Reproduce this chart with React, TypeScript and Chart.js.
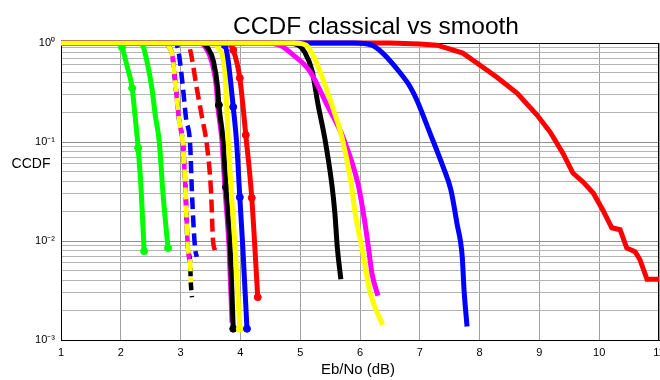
import { useEffect, useRef } from "react";
import { Chart, registerables } from "chart.js";

Chart.register(...registerables);

// ---------- axis ticks ----------
const xTickValues = [1, 2, 3, 4, 5, 6, 7, 8, 9, 10, 11];
const yDecades = [0.001, 0.01, 0.1];
const yMinorMultipliers = [1, 2, 3, 4, 5, 6, 7, 8, 9];
const yTickLabels = ["10⁰", "10⁻¹", "10⁻²", "10⁻³"];

// ---------- texts ----------
const titleText = "CCDF classical vs smooth";
const xLabelText = "Eb/No (dB)";
const yLabelText = "CCDF";

// ---------- data: smooth (right group) ----------
const yellowRX = [1, 4.9, 5.1, 5.21, 5.33, 5.53, 5.7, 5.85, 5.92, 6.03, 6.17, 6.38];
const yellowRY = [1, 1, 0.95, 0.76, 0.52, 0.236, 0.11, 0.039, 0.019, 0.0087, 0.003, 0.00142];

const blueRX = [1, 5.9, 6.2, 6.38, 6.67, 6.84, 6.95, 7.17, 7.39, 7.52, 7.62, 7.71, 7.74, 7.79];
const blueRY = [1, 1, 0.95, 0.79, 0.5, 0.36, 0.266, 0.123, 0.056, 0.0328, 0.0152, 0.0069, 0.0032, 0.00137];

const redRX = [1, 6.5, 7.0, 7.29, 7.72, 7.89, 8.29, 8.63, 8.96, 9.18, 9.39, 9.56, 9.73, 9.9, 10.06, 10.21, 10.35, 10.46, 10.6, 10.68, 10.8, 11];
const redRY = [1, 1, 0.975, 0.95, 0.79, 0.67, 0.45, 0.31, 0.187, 0.126, 0.0775, 0.0486, 0.0395, 0.0305, 0.0206, 0.0136, 0.013, 0.0085, 0.0078, 0.0065, 0.0041, 0.0041];

const magentaRX = [1, 4.4, 4.66, 4.88, 5.16, 5.45, 5.72, 5.97, 6.07, 6.14, 6.2, 6.3];
const magentaRY = [1, 1, 0.95, 0.76, 0.52, 0.236, 0.11, 0.037, 0.017, 0.0087, 0.0047, 0.0028];

const blackRX = [1, 4.75, 4.95, 5.08, 5.2, 5.3, 5.41, 5.53, 5.58, 5.62, 5.68];
const blackRY = [1, 1, 0.96, 0.8, 0.52, 0.236, 0.11, 0.037, 0.019, 0.0087, 0.0041];

// ---------- data: classical (left group) ----------
const redLX = [1, 3.8, 3.88, 3.99, 4.09, 4.19, 4.29];
const redLY = [1, 1, 0.85, 0.443, 0.118, 0.0273, 0.00271];

const blueLX = [1, 3.65, 3.74, 3.79, 3.88, 3.94, 3.99, 4.04, 4.11];
const blueLY = [1, 1, 0.95, 0.7, 0.226, 0.093, 0.0277, 0.0087, 0.0013];

const yellowLX = [1, 3.5, 3.63, 3.74, 3.77, 3.8, 3.85, 3.91, 3.99];
const yellowLY = [1, 1, 0.89, 0.52, 0.236, 0.093, 0.03, 0.0087, 0.0013];

const blackLX = [1, 3.35, 3.45, 3.55, 3.62, 3.64, 3.71, 3.76, 3.83, 3.88];
const blackLY = [1, 1, 0.9, 0.65, 0.35, 0.236, 0.105, 0.035, 0.0087, 0.0013];

const magentaLX = [1, 3.3, 3.42, 3.52, 3.6, 3.62, 3.69, 3.74, 3.81, 3.86];
const magentaLY = [1, 1, 0.9, 0.65, 0.35, 0.236, 0.105, 0.035, 0.0087, 0.0015];

const redDX = [1, 3.1, 3.16, 3.27, 3.36, 3.44, 3.51, 3.54, 3.58];
const redDY = [1, 1, 0.85, 0.35, 0.175, 0.093, 0.0306, 0.0105, 0.0079];

const blueDX = [1, 2.9, 2.96, 3.04, 3.09, 3.16, 3.19, 3.24, 3.27];
const blueDY = [1, 1, 0.85, 0.35, 0.175, 0.093, 0.0306, 0.0087, 0.0069];

const yellowDX = [1, 2.75, 2.8, 2.86, 2.92, 2.97, 3.04, 3.08, 3.12, 3.16, 3.17];
const yellowDY = [1, 1, 0.92, 0.76, 0.35, 0.175, 0.093, 0.035, 0.0087, 0.006, 0.0039];

const magentaDX = [1, 2.75, 2.8, 2.86, 2.92, 2.97, 3.04, 3.08, 3.12, 3.16];
const magentaDY = [1, 1, 0.92, 0.76, 0.35, 0.175, 0.093, 0.035, 0.0087, 0.006];

const blackDX = [1, 2.75, 2.8, 2.86, 2.92, 2.97, 3.04, 3.08, 3.12, 3.16, 3.17, 3.19];
const blackDY = [1, 1, 0.92, 0.76, 0.35, 0.175, 0.093, 0.035, 0.0087, 0.006, 0.0039, 0.0027];

const green2X = [1, 2.33, 2.38, 2.45, 2.52, 2.58, 2.64, 2.71, 2.79];
const green2Y = [1, 1, 0.9, 0.6, 0.35, 0.18, 0.105, 0.028, 0.0085];

const green1X = [1, 1.95, 2.02, 2.1, 2.19, 2.24, 2.29, 2.34, 2.39];
const green1Y = [1, 1, 0.9, 0.6, 0.35, 0.18, 0.087, 0.033, 0.0079];

function pts(xs: number[], ys: number[]) {
  return xs.map((x, i) => ({ x, y: ys[i] }));
}

type Curve = {
  label: string;
  xs: number[];
  ys: number[];
  color: string;
  dash: number[];
  dashOffset: number;
  markers: number[];
  smooth: boolean;
};

// first entry is drawn on top
const curves: Curve[] = [
  { label: "smooth yellow", xs: yellowRX, ys: yellowRY, color: "#ffff00", dash: [], dashOffset: 0, markers: [], smooth: true },
  { label: "smooth blue", xs: blueRX, ys: blueRY, color: "#0000ff", dash: [], dashOffset: 0, markers: [], smooth: true },
  { label: "smooth red", xs: redRX, ys: redRY, color: "#ff0000", dash: [], dashOffset: 0, markers: [], smooth: false },
  { label: "smooth magenta", xs: magentaRX, ys: magentaRY, color: "#ff00ff", dash: [], dashOffset: 0, markers: [], smooth: true },
  { label: "smooth black", xs: blackRX, ys: blackRY, color: "#000000", dash: [], dashOffset: 0, markers: [], smooth: true },
  { label: "classical red", xs: redLX, ys: redLY, color: "#ff0000", dash: [], dashOffset: 0, markers: [2, 3, 4, 5, 6], smooth: true },
  { label: "classical blue", xs: blueLX, ys: blueLY, color: "#0000ff", dash: [], dashOffset: 0, markers: [2, 4, 6, 8], smooth: true },
  { label: "classical yellow", xs: yellowLX, ys: yellowLY, color: "#ffff00", dash: [], dashOffset: 0, markers: [8], smooth: true },
  { label: "classical black", xs: blackLX, ys: blackLY, color: "#000000", dash: [], dashOffset: 0, markers: [5, 7, 9], smooth: true },
  { label: "classical magenta", xs: magentaLX, ys: magentaLY, color: "#ff00ff", dash: [], dashOffset: 0, markers: [], smooth: true },
  { label: "dashed red", xs: redDX, ys: redDY, color: "#ff0000", dash: [13, 6], dashOffset: 0, markers: [], smooth: true },
  { label: "dashed blue", xs: blueDX, ys: blueDY, color: "#0000ff", dash: [12, 6], dashOffset: 0, markers: [], smooth: true },
  { label: "dashed yellow", xs: yellowDX, ys: yellowDY, color: "#ffff00", dash: [12, 6], dashOffset: 0, markers: [], smooth: true },
  { label: "dashed magenta", xs: magentaDX, ys: magentaDY, color: "#ff00ff", dash: [12, 6], dashOffset: 9, markers: [], smooth: true },
  { label: "dashed black", xs: blackDX, ys: blackDY, color: "#000000", dash: [8, 6], dashOffset: 3, markers: [], smooth: true },
  { label: "green 2", xs: green2X, ys: green2Y, color: "#00ff00", dash: [], dashOffset: 0, markers: [8], smooth: true },
  { label: "green 1", xs: green1X, ys: green1Y, color: "#00ff00", dash: [], dashOffset: 0, markers: [2, 4, 6, 8], smooth: true },
];

function isPow10(v: number) {
  const l = Math.log10(v);
  return Math.abs(l - Math.round(l)) < 1e-9;
}

const FONT = "'Liberation Sans', Arial, Helvetica, sans-serif";

export default function App() {
  const ref = useRef<HTMLCanvasElement | null>(null);

  useEffect(() => {
    if (!ref.current) return;
    const yTicks: number[] = [];
    yDecades.forEach((d) => yMinorMultipliers.forEach((m) => yTicks.push(d * m)));
    yTicks.push(1);

    const framePlugin = {
      id: "frame",
      beforeDatasetsDraw(chart: any) {
        const { ctx, chartArea: a } = chart;
        ctx.save();
        ctx.strokeStyle = "#000";
        ctx.lineWidth = 1;
        ctx.strokeRect(a.left + 0.5, a.top + 0.5, a.right - a.left - 1, a.bottom - a.top);
        ctx.restore();
      },
      afterDraw(chart: any) {
        const { ctx } = chart;
        ctx.save();
        ctx.fillStyle = "#000";
        ctx.textBaseline = "alphabetic";
        ctx.textAlign = "center";
        ctx.font = `24.5px ${FONT}`;
        ctx.fillText(titleText, 376, 34);
        ctx.font = `14px ${FONT}`;
        ctx.fillText(yLabelText, 31, 168);
        ctx.font = `15px ${FONT}`;
        ctx.fillText(xLabelText, 358, 374);
        ctx.restore();
      },
    };

    const chart = new Chart(ref.current, {
      type: "line",
      data: {
        datasets: curves.map((c) => ({
          label: c.label,
          data: pts(c.xs, c.ys),
          borderColor: c.color,
          backgroundColor: c.color,
          borderWidth: c.dash.length ? 4.5 : 5,
          borderDash: c.dash,
          borderDashOffset: c.dashOffset,
          fill: false,
          cubicInterpolationMode: c.smooth ? "monotone" : "default",
          tension: 0,
          clip: false,
          pointRadius: (ctx: any) => (c.markers.includes(ctx.dataIndex) ? 3.5 : 0),
          pointBorderWidth: 1,
          pointBorderColor: c.color,
          pointBackgroundColor: c.color,
        })) as any,
      },
      options: {
        animation: false,
        responsive: false,
        devicePixelRatio: 1,
        layout: { autoPadding: false, padding: { top: 43, right: 1, left: 0, bottom: 0 } },
        plugins: {
          legend: { display: false },
          title: { display: false },
          tooltip: { enabled: false },
        },
        scales: {
          x: {
            type: "linear",
            min: 1,
            max: 11,
            afterBuildTicks: (scale: any) => {
              scale.ticks = xTickValues.map((v) => ({ value: v }));
            },
            afterFit: (scale: any) => {
              scale.height = 40;
              scale.paddingLeft = 0;
              scale.paddingRight = 0;
            },
            grid: { color: "#a0a0a0", lineWidth: 1, drawTicks: false },
            border: { display: true, color: "#000", width: 1 },
            ticks: {
              padding: 6,
              color: "#000",
              font: { family: FONT, size: 11 },
              autoSkip: false,
              maxRotation: 0,
              callback: (v: any) => String(v),
            },
          },
          y: {
            type: "logarithmic",
            min: 0.001,
            max: 1,
            afterBuildTicks: (scale: any) => {
              scale.ticks = yTicks.map((v) => ({ value: v, major: isPow10(v) }));
            },
            afterFit: (scale: any) => {
              scale.width = 61;
              scale.paddingTop = 0;
              scale.paddingBottom = 0;
            },
            grid: {
              color: (ctx: any) => (ctx.tick && isPow10(ctx.tick.value) ? "#909090" : "#b4b4b4"),
              lineWidth: 1,
              drawTicks: false,
            },
            border: { display: true, color: "#000", width: 1 },
            ticks: {
              padding: 6,
              color: "#000",
              font: { family: FONT, size: 11 },
              autoSkip: false,
              callback: (v: any) => {
                const val = Number(v);
                if (!isPow10(val)) return "";
                return yTickLabels[-Math.round(Math.log10(val))];
              },
            },
          },
        },
      },
      plugins: [framePlugin],
    });

    return () => chart.destroy();
  }, []);

  return (
    <div style={{ position: "absolute", left: 0, top: 0, width: 660, height: 380, background: "#fff" }}>
      <canvas ref={ref} width={660} height={380} style={{ width: 660, height: 380, display: "block" }} />
    </div>
  );
}
